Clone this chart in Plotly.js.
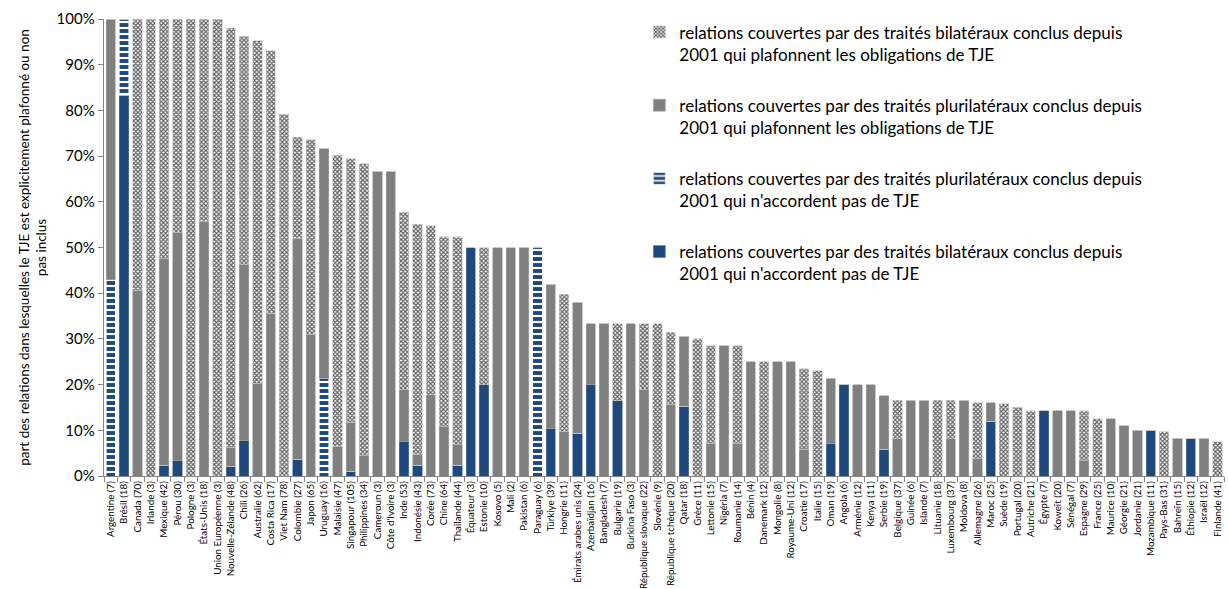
<!DOCTYPE html>
<html>
<head>
<meta charset="utf-8">
<script src="https://cdn.plot.ly/plotly-3.0.1.min.js"></script>
<style>html,body{margin:0;padding:0;background:#fff;}#chart{width:1228px;height:589px;}</style>
</head>
<body>
<div id="chart"></div>
<script>
const categories = ["Argentine (7)","Brésil (18)","Canada (70)","Irlande (3)","Mexique (42)","Pérou (30)","Pologne (3)","États-Unis (18)","Union Européenne (3)","Nouvelle-Zélande (48)","Chili (26)","Australie (62)","Costa Rica (17)","Viet Nam (78)","Colombie (27)","Japon (65)","Uruguay (16)","Malaisie (47)","Singapour (105)","Philippines (34)","Cameroun (3)","Côte d'Ivoire (3)","Inde (53)","Indonésie (43)","Corée (73)","Chine (64)","Thaïlande (44)","Équateur (3)","Estonie (10)","Kosovo (5)","Mali (2)","Pakistan (6)","Paraguay (6)","Türkiye (39)","Hongrie (11)","Émirats arabes unis (24)","Azerbaïdjan (16)","Bangladesh (7)","Bulgarie (19)","Burkina Faso (3)","République slovaque (22)","Slovénie (9)","République tchèque (20)","Qatar (18)","Grèce (11)","Lettonie (15)","Nigéria (7)","Roumanie (14)","Bénin (4)","Danemark (12)","Mongolie (8)","Royaume-Uni (12)","Croatie (17)","Italie (15)","Oman (19)","Angola (6)","Arménie (12)","Kenya (11)","Serbie (19)","Belgique (37)","Guinée (6)","Islande (7)","Lituanie (18)","Luxembourg (37)","Moldova (8)","Allemagne (26)","Maroc (25)","Suède (19)","Portugal (20)","Autriche (21)","Égypte (7)","Koweït (20)","Sénégal (7)","Espagne (29)","France (25)","Maurice (10)","Géorgie (21)","Jordanie (21)","Mozambique (11)","Pays-Bas (31)","Bahreïn (15)","Éthiopie (12)","Israël (12)","Finlande (41)"];

// bilateral treaties, no ISDS (solid blue)
const bilateralNoISDS = [0,83.3,0,0,2.4,3.3,0,0,0,2.1,7.7,0,0,0,3.7,0,0,0,1.0,0,0,0,7.5,2.3,0,0,2.3,50,20,0,0,0,0,10.3,0,9.4,20,0,16.5,0,0,0,0,15.3,0,0,0,0,0,0,0,0,0,0,7.1,20,0,0,5.8,0,0,0,0,0,0,0,12,0,0,0,14.3,0,0,0,0,0,0,0,10,0,0,8.3,0,0];
// plurilateral treaties, no ISDS (blue stripes)
const plurilateralNoISDS = [42.9,16.7,0,0,0,0,0,0,0,0,0,0,0,0,0,0,21.4,0,0,0,0,0,0,0,0,0,0,0,0,0,0,0,50,0,0,0,0,0,0,0,0,0,0,0,0,0,0,0,0,0,0,0,0,0,0,0,0,0,0,0,0,0,0,0,0,0,0,0,0,0,0,0,0,0,0,0,0,0,0,0,0,0,0,0];
// plurilateral treaties capping ISDS (grey)
const plurilateralCapped = [57.1,0,40.5,0,45.2,50,0,55.6,0,4.2,38.5,20.3,35.5,0,48.2,31,50.2,6.4,10.8,4.4,66.7,66.7,11.4,2.4,17.8,10.9,4.5,0,0,50,50,50,0,31.7,9.8,28.6,13.3,33.3,0,33.3,19,0,15.7,15.3,0,7.2,28.5,7.2,25,0,25,25,5.9,0,14.3,0,20,20,11.8,8.2,16.6,16.6,0,8.2,16.6,3.9,4,0,0,0,0,14.3,14.3,3.4,0,12.5,11,10,0,0,8.3,0,8.3,0];
// bilateral treaties capping ISDS (checker)
const bilateralCapped = [0,0,59.5,100,52.4,46.7,100,44.4,100,91.7,50,74.9,57.5,79.2,22.2,42.6,0,63.8,57.6,63.9,0,0,38.8,50.4,37,41.4,45.5,0,30,0,0,0,0,0,30,0,0,0,16.8,0,14.3,33.3,15.8,0,30,21.3,0,21.3,0,25,0,0,17.6,23,0,0,0,0,0,8.4,0,0,16.6,8.4,0,12.1,0,15.8,15,14.3,0,0,0,10.9,12.5,0,0,0,0,9.7,0,0,0,7.5];

const seriesNames = [
  "relations couvertes par des traités bilatéraux conclus depuis<br>2001 qui n'accordent pas de TJE",
  "relations couvertes par des traités plurilatéraux conclus depuis<br>2001 qui n'accordent pas de TJE",
  "relations couvertes par des traités plurilatéraux conclus depuis<br>2001 qui plafonnent les obligations de TJE",
  "relations couvertes par des traités bilatéraux conclus depuis<br>2001 qui plafonnent les obligations de TJE"
];

const BLUE = '#1f497d', GREY = '#808080';
const FONT = 'Lato, Carlito, Calibri, "Open Sans", sans-serif';

const traces = [
  {y: bilateralNoISDS, name: seriesNames[0], legendgroup: 'a', legendrank: 4,
   marker: {color: BLUE, line: {color: '#5b7fb0', width: 0.6}}},
  {y: plurilateralNoISDS, name: seriesNames[1], legendgroup: 'b', legendrank: 3,
   marker: {color: BLUE, line: {color: '#ffffff', width: 0.6},
            pattern: {shape: '-', fgcolor: '#ffffff', bgcolor: BLUE, size: 6, solidity: 0.35}}},
  {y: plurilateralCapped, name: seriesNames[2], legendgroup: 'c', legendrank: 2,
   marker: {color: GREY, line: {color: '#a6a6a6', width: 0.6}}},
  {y: bilateralCapped, name: seriesNames[3], legendgroup: 'd', legendrank: 1,
   marker: {color: '#ffffff', line: {color: '#c8c8c8', width: 0.6},
            pattern: {shape: 'x', fgcolor: '#5e5e5e', bgcolor: '#ffffff', size: 3, solidity: 0.62}}}
].map(t => Object.assign({type: 'bar', x: categories, hoverinfo: 'x+y'}, t));

const layout = {
  width: 1228, height: 589,
  margin: {l: 104, r: 4, t: 19, b: 113},
  barmode: 'stack',
  bargap: 0.3,
  paper_bgcolor: '#ffffff', plot_bgcolor: '#ffffff',
  font: {family: FONT, color: '#000000'},
  showlegend: true,
  legend: {
    x: 0.478, y: 1.01, xanchor: 'left', yanchor: 'top',
    traceorder: 'grouped', tracegroupgap: 26, valign: 'top',
    font: {family: FONT, size: 17, color: '#000000'},
    bgcolor: 'rgba(0,0,0,0)'
  },
  xaxis: {
    type: 'category', tickangle: -90,
    tickfont: {family: FONT, size: 9.8, color: '#000000'},
    showline: true, linecolor: '#868686', linewidth: 1.3,
    ticks: 'outside', tickson: 'boundaries', ticklen: 5, tickcolor: '#868686',
    showgrid: false, zeroline: false, automargin: false
  },
  yaxis: {
    range: [0, 100], dtick: 10, ticksuffix: '%',
    tickfont: {family: FONT, size: 15, color: '#000000'},
    showline: true, linecolor: '#868686', linewidth: 1.3,
    ticks: 'outside', ticklen: 5, tickcolor: '#868686',
    showgrid: false, zeroline: false, automargin: false,
    title: {text: 'part des relations dans lesquelles le TJE est explicitement plafonné ou non<br>pas inclus',
            font: {family: FONT, size: 13.5, color: '#000000'}, standoff: 6}
  }
};

Plotly.newPlot('chart', traces, layout, {staticPlot: true, displayModeBar: false});
</script>
</body>
</html>
